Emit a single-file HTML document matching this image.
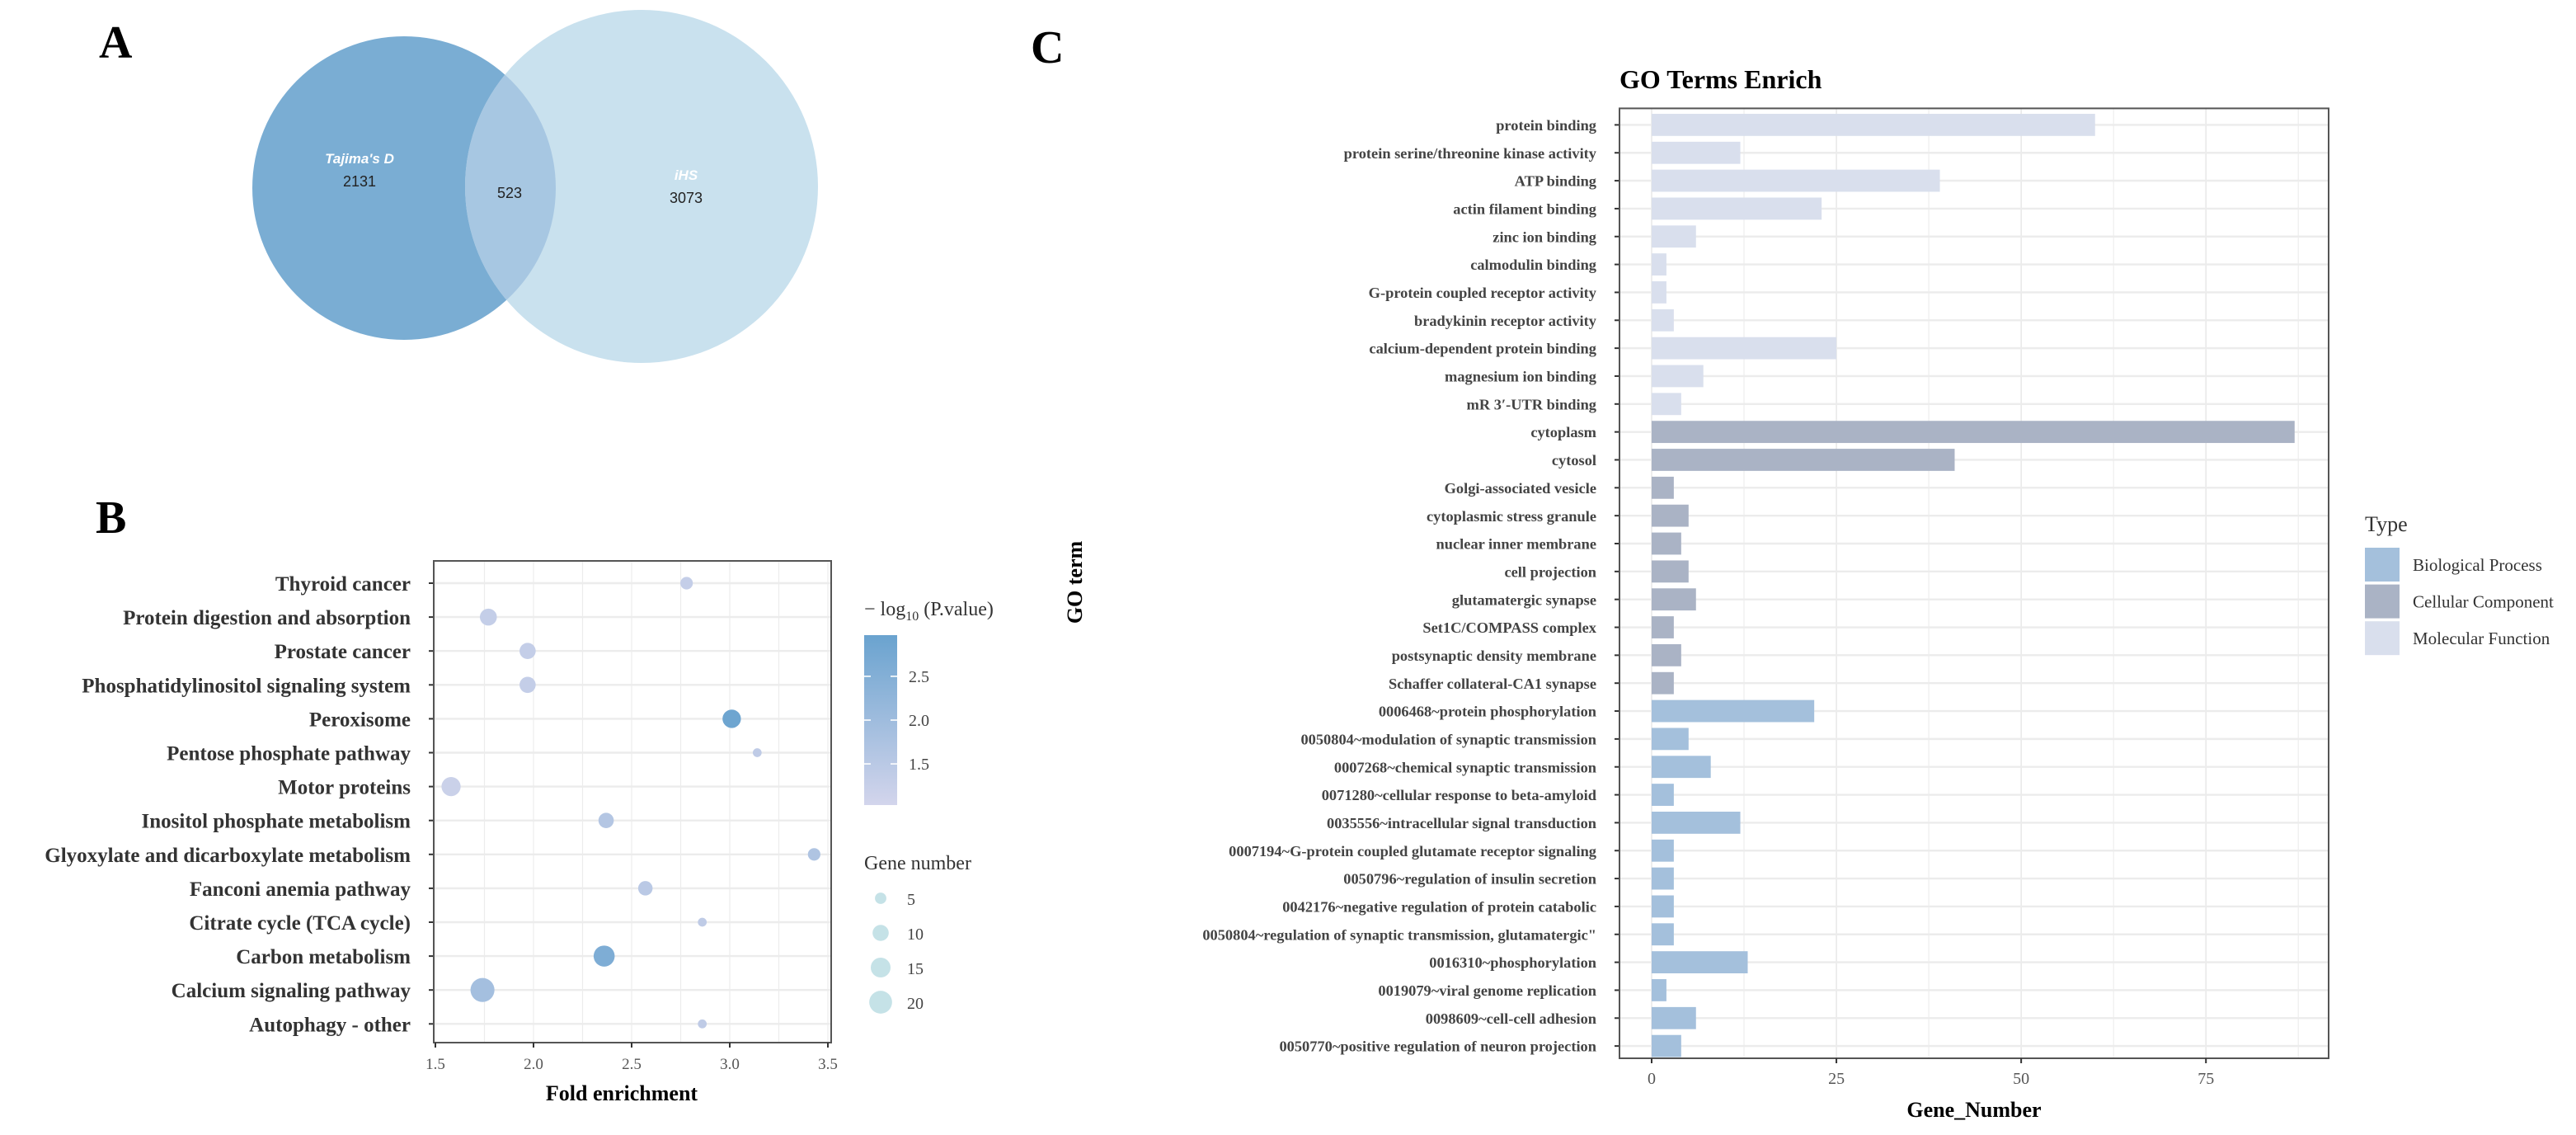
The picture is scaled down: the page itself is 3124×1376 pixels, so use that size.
<!DOCTYPE html>
<html><head><meta charset="utf-8"><style>
html,body{margin:0;padding:0;background:#fff;}
svg{display:block;}
text{font-family:"Liberation Serif",serif;}
</style></head><body>
<svg id="fig" width="3124" height="1376" viewBox="0 0 1562 688" xmlns="http://www.w3.org/2000/svg">
<rect width="1562" height="688" fill="#fff"/>
<g>
<text x="60" y="35" font-size="28" font-weight="bold">A</text>
<circle cx="245" cy="114" r="92" fill="#7aadd3"/>
<circle cx="389" cy="113" r="107" fill="#c9e1ee"/>
<clipPath id="cl"><circle cx="245" cy="114" r="92"/></clipPath>
<circle cx="389" cy="113" r="107" fill="#a7c7e2" clip-path="url(#cl)"/>
<text x="218" y="99" font-size="8.5" font-style="italic" font-weight="bold" fill="#fff" text-anchor="middle" style="font-family:'Liberation Sans',sans-serif">Tajima's D</text>
<text x="218" y="113" font-size="9" text-anchor="middle" fill="#222" style="font-family:'Liberation Sans',sans-serif">2131</text>
<text x="309" y="120" font-size="9" text-anchor="middle" fill="#222" style="font-family:'Liberation Sans',sans-serif">523</text>
<text x="416" y="109" font-size="8.5" font-style="italic" font-weight="bold" fill="#fff" text-anchor="middle" style="font-family:'Liberation Sans',sans-serif">iHS</text>
<text x="416" y="123" font-size="9" text-anchor="middle" fill="#222" style="font-family:'Liberation Sans',sans-serif">3073</text>
</g>
<text x="58" y="323" font-size="28" font-weight="bold">B</text>
<text x="625" y="38" font-size="28" font-weight="bold">C</text>
<g id="pb"></g>
<g id="pc"></g>
</svg>
<script>
// ---------- Panel B data ----------
const bTerms = ["Thyroid cancer","Protein digestion and absorption","Prostate cancer","Phosphatidylinositol signaling system","Peroxisome","Pentose phosphate pathway","Motor proteins","Inositol phosphate metabolism","Glyoxylate and dicarboxylate metabolism","Fanconi anemia pathway","Citrate cycle (TCA cycle)","Carbon metabolism","Calcium signaling pathway","Autophagy - other"];
const bFold = [2.78,1.77,1.97,1.97,3.01,3.14,1.58,2.37,3.43,2.57,2.86,2.36,1.74,2.86];
const bGenes = [6,11,10,10,13,3,14,9,6,8,3,17,22,3];
const bLogP = [1.3,1.3,1.3,1.3,2.9,1.4,1.2,1.6,1.7,1.5,1.4,2.6,1.9,1.4];
const bXTicks = [1.5,2.0,2.5,3.0,3.5];
const bColorTicks = [1.5,2.0,2.5];
const bSizeTicks = [5,10,15,20];
// ---------- Panel C data ----------
const cTerms = ["protein binding","protein serine/threonine kinase activity","ATP binding","actin filament binding","zinc ion binding","calmodulin binding","G-protein coupled receptor activity","bradykinin receptor activity","calcium-dependent protein binding","magnesium ion binding","mR 3\u2032-UTR binding","cytoplasm","cytosol","Golgi-associated vesicle","cytoplasmic stress granule","nuclear inner membrane","cell projection","glutamatergic synapse","Set1C/COMPASS complex","postsynaptic density membrane","Schaffer collateral-CA1 synapse","0006468~protein phosphorylation","0050804~modulation of synaptic transmission","0007268~chemical synaptic transmission","0071280~cellular response to beta-amyloid","0035556~intracellular signal transduction","0007194~G-protein coupled glutamate receptor signaling","0050796~regulation of insulin secretion","0042176~negative regulation of protein catabolic","0050804~regulation of synaptic transmission, glutamatergic\"","0016310~phosphorylation","0019079~viral genome replication","0098609~cell-cell adhesion","0050770~positive regulation of neuron projection"];
const cCounts = [60,12,39,23,6,2,2,3,25,7,4,87,41,3,5,4,5,6,3,4,3,22,5,8,3,12,3,3,3,3,13,2,6,4];
const cTypes = ["MF","MF","MF","MF","MF","MF","MF","MF","MF","MF","MF","CC","CC","CC","CC","CC","CC","CC","CC","CC","CC","BP","BP","BP","BP","BP","BP","BP","BP","BP","BP","BP","BP","BP"];
const cTypeNames = ["Biological Process","Cellular Component","Molecular Function"];
const cTypeKeys = ["BP","CC","MF"];
const cXTicks = [0,25,50,75];

const NS="http://www.w3.org/2000/svg";
function mk(tag,parent,attrs,txt){const e=document.createElementNS(NS,tag);for(const k in attrs)e.setAttribute(k,attrs[k]);if(txt!==undefined)e.textContent=txt;parent.appendChild(e);return e;}
function lerpColor(a,b,t){const pa=[1,3,5].map(i=>parseInt(a.substr(i,2),16)),pb=[1,3,5].map(i=>parseInt(b.substr(i,2),16));return "rgb("+pa.map((v,i)=>Math.round(v+(pb[i]-v)*t)).join(",")+")";}

// ---------- Panel B ----------
(function(){
const g=document.getElementById('pb');
const L=263,R=504,T=340,B=632;
const x=v=>L+(v-1.5)/(3.5-1.5)*(502-264)+1;
const y0=353.5,dy=20.55;
const y=i=>y0+i*dy;
const rad=n=>1.55*Math.sqrt(n);
const cMin=1.03,cMax=2.97,cLo="#d3d5ec",cHi="#6aa3cf";
const col=v=>lerpColor(cLo,cHi,Math.max(0,Math.min(1,(v-cMin)/(cMax-cMin))));
for(let v=1.5;v<=3.5001;v+=0.25){let l=mk('line',g,{x1:x(v),x2:x(v),y1:T,y2:B,stroke:'#ececec','stroke-width':0.6});

}
bTerms.forEach((t,i)=>{let l=mk('line',g,{x1:L,x2:R,y1:y(i),y2:y(i),stroke:'#ececec','stroke-width':1.2});


let tk=mk('line',g,{x1:L-3,x2:L,y1:y(i),y2:y(i),stroke:'#333','stroke-width':1});


let tx=mk('text',g,{x:249,y:y(i)+4.5,'font-size':12.5,'font-weight':'bold','text-anchor':'end',fill:'#333'},t);

});
let fr=mk('rect',g,{x:L,y:T,width:R-L,height:B-T,fill:'none',stroke:'#555','stroke-width':1});


bFold.forEach((v,i)=>{let c=mk('circle',g,{cx:x(v),cy:y(i),r:rad(bGenes[i]),fill:col(bLogP[i])});

});
bXTicks.forEach(v=>{let tk=mk('line',g,{x1:x(v),x2:x(v),y1:B,y2:B+3,stroke:'#333','stroke-width':1});


let t=mk('text',g,{x:x(v),y:648,'font-size':9.5,'text-anchor':'middle',fill:'#555'},v.toFixed(1));

});
let xt=mk('text',g,{x:377,y:667,'font-size':13,'font-weight':'bold','text-anchor':'middle'},'Fold enrichment');


// color legend
let lt=mk('text',g,{x:524,y:373,'font-size':12,fill:'#333'});


lt.innerHTML='\u2212 log<tspan font-size="8" dy="3">10</tspan><tspan dy="-3"> (P.value)</tspan>';
const defs=mk('defs',g,{});const gr=mk('linearGradient',defs,{id:'cbg',x1:0,y1:1,x2:0,y2:0});
mk('stop',gr,{offset:0,'stop-color':cLo});mk('stop',gr,{offset:1,'stop-color':cHi});
const cbT=385,cbB=488;
let cb=mk('rect',g,{x:524,y:cbT,width:20,height:cbB-cbT,fill:'url(#cbg)'});


const cy=v=>cbB-(v-cMin)/(cMax-cMin)*(cbB-cbT);
bColorTicks.forEach(v=>{mk('line',g,{x1:524,x2:528,y1:cy(v),y2:cy(v),stroke:'#fff','stroke-width':0.8});mk('line',g,{x1:540,x2:544,y1:cy(v),y2:cy(v),stroke:'#fff','stroke-width':0.8});
let t=mk('text',g,{x:551,y:cy(v)+3.5,'font-size':10,fill:'#444'},v.toFixed(1));

});
let st=mk('text',g,{x:524,y:527,'font-size':12,fill:'#333'},'Gene number');


bSizeTicks.forEach((v,i)=>{const yy=544.5+i*21;
let c=mk('circle',g,{cx:534,cy:yy,r:rad(v),fill:'#c5e2e7'});


let t=mk('text',g,{x:550,y:yy+4,'font-size':10,fill:'#444'},String(v));

});
})();

// ---------- Panel C ----------
(function(){
const g=document.getElementById('pc');
const L=982,R=1412,T=65.7,B=641.5;
const xMin=-4.35,xMax=91.6;
const x=v=>L+(v-xMin)/(xMax-xMin)*(R-L);
const y0=75.7,dy=16.92,bh=13.4;
const y=i=>y0+i*dy;
const colors={BP:"#a4c0dc",CC:"#aab3c5",MF:"#d9dfed"};
let tt=mk('text',g,{x:982,y:53.5,'font-size':16,'font-weight':'bold'},'GO Terms Enrich');


for(let v=0;v<=87.5;v+=12.5){let l=mk('line',g,{x1:x(v),x2:x(v),y1:T,y2:B,stroke:(v%25===0)?'#e6e6e6':'#f0f0f0','stroke-width':0.7});

}
cTerms.forEach((t,i)=>{let l=mk('line',g,{x1:L,x2:R,y1:y(i),y2:y(i),stroke:'#ececec','stroke-width':1.2});


let tk=mk('line',g,{x1:L-3,x2:L,y1:y(i),y2:y(i),stroke:'#333','stroke-width':1});


let tx=mk('text',g,{x:968,y:y(i)+3.3,'font-size':9.2,'font-weight':'bold','text-anchor':'end',fill:'#444'},t);

});
cCounts.forEach((v,i)=>{let r=mk('rect',g,{x:x(0),y:y(i)-bh/2,width:x(v)-x(0),height:bh,fill:colors[cTypes[i]]});

});
let fr=mk('rect',g,{x:L,y:T,width:R-L,height:B-T,fill:'none',stroke:'#555','stroke-width':1});


cXTicks.forEach(v=>{let tk=mk('line',g,{x1:x(v),x2:x(v),y1:B,y2:B+3,stroke:'#333','stroke-width':1});


let t=mk('text',g,{x:x(v),y:657,'font-size':10,'text-anchor':'middle',fill:'#555'},String(v));

});
let xt=mk('text',g,{x:1197,y:677,'font-size':13,'font-weight':'bold','text-anchor':'middle'},'Gene_Number');


let yt=mk('text',g,{x:0,y:0,'font-size':13,'font-weight':'bold','text-anchor':'middle',transform:'translate(656,353) rotate(-90)'},'GO term');


let lt=mk('text',g,{x:1434,y:322,'font-size':13,fill:'#333'},'Type');


cTypeKeys.forEach((k,i)=>{const yy=332+i*22.3;
let r=mk('rect',g,{x:1434,y:yy,width:21,height:20.5,fill:colors[k]});


let t=mk('text',g,{x:1463,y:yy+14,'font-size':10.5,fill:'#333'},cTypeNames[i]);

});
})();
</script>
</body></html>
